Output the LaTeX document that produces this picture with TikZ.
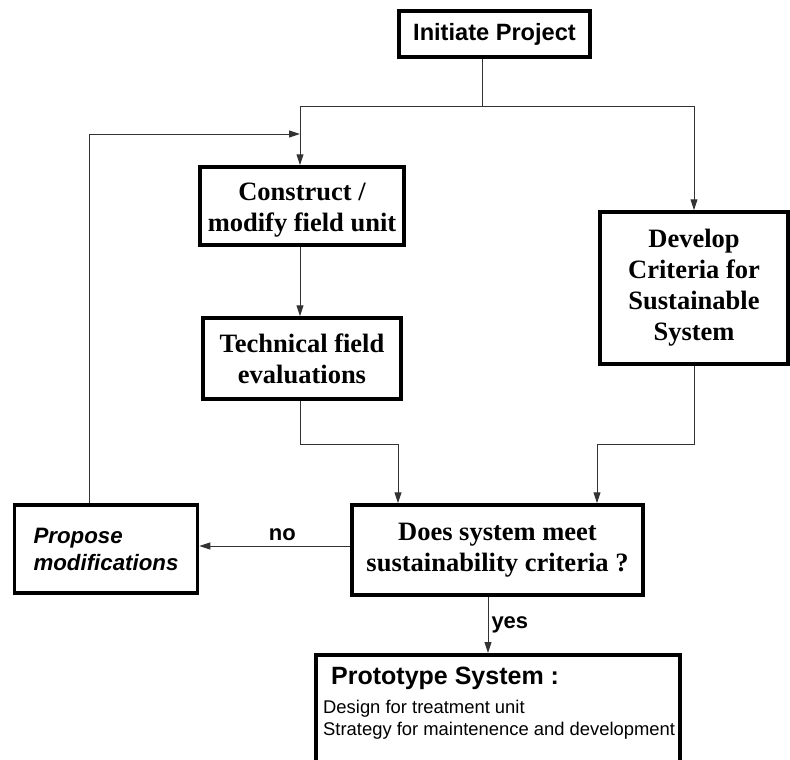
\documentclass[tikz,border=0pt]{standalone}
\usepackage{fontspec}
\setmainfont{Liberation Serif}
\setsansfont{Liberation Sans}
\usetikzlibrary{arrows.meta, positioning, calc}

\begin{document}
\begin{tikzpicture}[
		x=1pt, y=-1pt,
		block/.style={
			rectangle, 
			draw=black, 
			line width=3.5pt, 
			align=center, 
			inner sep=0pt,
			font=\rmfamily\bfseries\fontsize{26.5}{31}\selectfont
		},
		startbox/.style={
			block, 
			font=\sffamily\bfseries\fontsize{23.6}{28}\selectfont
		},
		arrow/.style={
			-{Triangle[length=11pt, width=7pt]}, 
			line width=1pt, 
			draw=black!80
		},
		answer/.style={
			font=\sffamily\bfseries\fontsize{22}{26}\selectfont
		}
		]
		
		\useasboundingbox (0,0) rectangle (790,760);
		
		% Main nodes
		\node (init) [startbox, minimum width=191, minimum height=46] at (494.5,34) {Initiate Project};
		\node (construct) [block, minimum width=204, minimum height=78] at (302,206) {\rule{0pt}{26pt}Construct /\\modify field unit};
		\node (tech) [block, minimum width=198, minimum height=81] at (302,358.5) {Technical field\\evaluations};
		\node (dev) [block, minimum width=188, minimum height=152] at (694,288) {Develop\\Criteria for\\Sustainable\\System};
		\node (decide) [block, minimum width=291, minimum height=90] at (497.5,550) {Does system meet\\sustainability criteria ?};
		\node (propose) [block, font=\sffamily\bfseries\itshape\fontsize{22.3}{27}\selectfont, align=left, text width=145, minimum width=183, minimum height=88] at (106,549) {Propose\\modifications};
		
		% Prototype box and its text
		\node (proto) [block, minimum width=364, minimum height=112, anchor=north west] at (314,653) {};
		\node (protoText) [anchor=north west, align=left, inner sep=0pt, font=\sffamily\fontsize{18.4}{22}\selectfont] at (323,667) {\hspace*{8pt}{\bfseries\fontsize{25}{28}\selectfont Prototype System :}\\[7pt]Design for treatment unit\\Strategy for maintenence and development};
		
		% Bends of the connectors
		\coordinate (split) at (482,106);
		\coordinate (colL) at (300,106);
		\coordinate (loop) at (89,134);
		\coordinate (mergeL) at (398,444);
		\coordinate (mergeR) at (597,444);
		\coordinate (noY) at (0,546);
		\coordinate (yesX) at (488,600);
		
		% Connection arrows
		\draw [arrow, -] (init.south -| split) -- (split);
		\draw [arrow] (split) -- (colL) -- (colL |- construct.north);
		\draw [arrow] (split) -| (dev.north);
		\draw [arrow] (colL |- construct.south) -- (colL |- tech.north);
		\draw [arrow] (colL |- tech.south) |- (mergeL) -- (mergeL |- decide.north);
		\draw [arrow] (dev.south) |- (mergeR) -- (mergeR |- decide.north);
		\draw [arrow] (decide.west |- noY) -- node[answer, above, pos=0.45, inner sep=5pt] {no} (propose.east |- noY);
		\draw [arrow] (yesX |- decide.south) -- node[answer, right, inner sep=3pt] {yes} (yesX |- proto.north);
		\draw [arrow] (loop |- propose.north) -- (loop) -- (colL |- loop);
		
	\end{tikzpicture}
\end{document}
